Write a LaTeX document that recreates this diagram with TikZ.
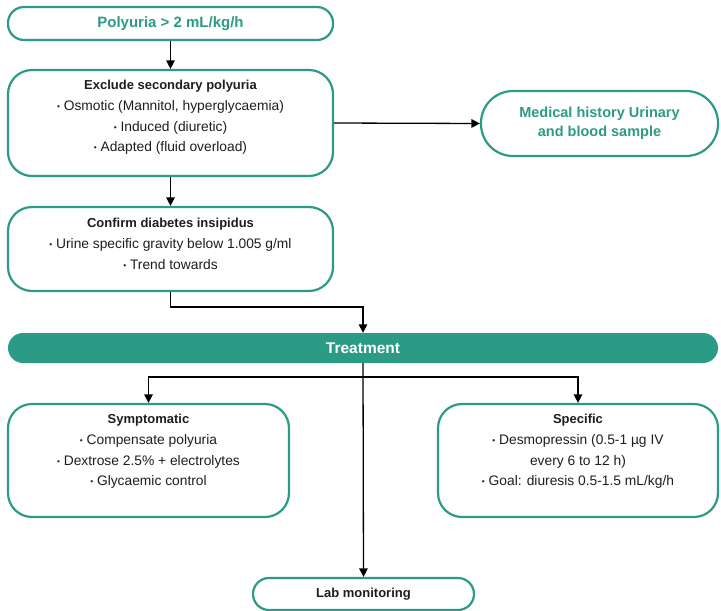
\documentclass[tikz,border=0pt]{standalone}
\usepackage{fontspec}
\usepackage{graphicx}
\setmainfont{Liberation Sans}
\usetikzlibrary{arrows.meta}
\definecolor{brandteal}{RGB}{44,155,134}
\definecolor{inkgray}{RGB}{30,30,30}
% small centred bullet used in the item lists
\newcommand\bul{\raisebox{0.12ex}{\scalebox{0.6}{•}}\ }
% bold heading line inside a box
\newcommand\boxhead[1]{{\bfseries\fontsize{13}{20.5}\selectfont #1}}
\begin{document}
\begin{tikzpicture}[x=1pt,y=-1pt,
  box/.style={draw=brandteal, line width=2.2pt, fill=white, inner sep=0pt},
  txt/.style={font=\fontsize{13.8}{20.7}\selectfont, text=inkgray, align=center, anchor=north, inner sep=0pt},
  headtxt/.style={font=\bfseries\fontsize{14.5}{19}\selectfont, text=brandteal, align=center},
  conn/.style={line width=1.3pt, draw=black, -{Triangle[length=8.5pt,width=8.5pt]}}]
\useasboundingbox (0,0) rectangle (721,611);
\clip (0,0) rectangle (721,611);

% top: trigger
\node[box, rounded corners=16pt, minimum width=325pt, minimum height=33pt, headtxt,
      font=\bfseries\fontsize{15}{19}\selectfont] (poly) at (170.5,23.5) {Polyuria > 2 mL/kg/h};

% exclusion step
\node[box, rounded corners=24pt, minimum width=325pt, minimum height=106pt] (excl) at (170.5,123) {};
\node[txt] (exclt) at (170.5,80) {\boxhead{Exclude secondary polyuria}\\
  \bul Osmotic (Mannitol, hyperglycaemia)\\
  \bul Induced (diuretic)\\
  \bul Adapted (fluid overload)};

% side check
\node[box, rounded corners=32pt, minimum width=237pt, minimum height=65pt, headtxt] (med) at (599.5,123.5) {Medical history Urinary\\and blood sample};

% confirmation step
\node[box, rounded corners=24pt, minimum width=325pt, minimum height=84pt] (conf) at (170.5,249) {};
\node[txt] (conft) at (170.5,218) {\boxhead{Confirm diabetes insipidus}\\
  \bul Urine specific gravity below 1.005 g/ml\\
  \bul Trend towards};

% treatment bar
\node[fill=brandteal, rounded corners=15pt, minimum width=710pt, minimum height=30pt, inner sep=0pt,
      text=white, font=\bfseries\fontsize{15.5}{17}\selectfont] (treat) at (363,348) {Treatment};

% treatment branches
\node[box, rounded corners=24pt, minimum width=281pt, minimum height=113pt] (symp) at (148.5,460.5) {};
\node[txt] (sympt) at (148.5,414) {\boxhead{Symptomatic}\\
  \bul Compensate polyuria\\
  \bul Dextrose 2.5\% + electrolytes\\
  \bul Glycaemic control};

\node[box, rounded corners=24pt, minimum width=280pt, minimum height=113pt] (spec) at (578,460.5) {};
\node[txt] (spect) at (578,414) {\boxhead{Specific}\\
  \bul Desmopressin (0.5-1 µg IV\\
  every 6 to 12 h)\\
  \bul Goal: diuresis 0.5-1.5 mL/kg/h};

\node[box, rounded corners=16pt, minimum width=221pt, minimum height=32pt,
      font=\bfseries\fontsize{13}{16}\selectfont, text=inkgray] (lab) at (363.5,594) {Lab monitoring};

% connectors
\coordinate (bend) at (170.5,307);
\coordinate (split) at (363,377);
\draw[conn] (poly.south) -- (excl.north);
\draw[conn] (excl.east) -- (med.west);
\draw[conn] (excl.south) -- (conf.north);
\draw[conn] (conf.south) -- (bend) -| (treat.north);
\draw[conn] (treat.south) -- (lab.north);
\draw[conn] (split) -| (symp.north);
\draw[conn] (split) -| (spec.north);
\end{tikzpicture}
\end{document}
